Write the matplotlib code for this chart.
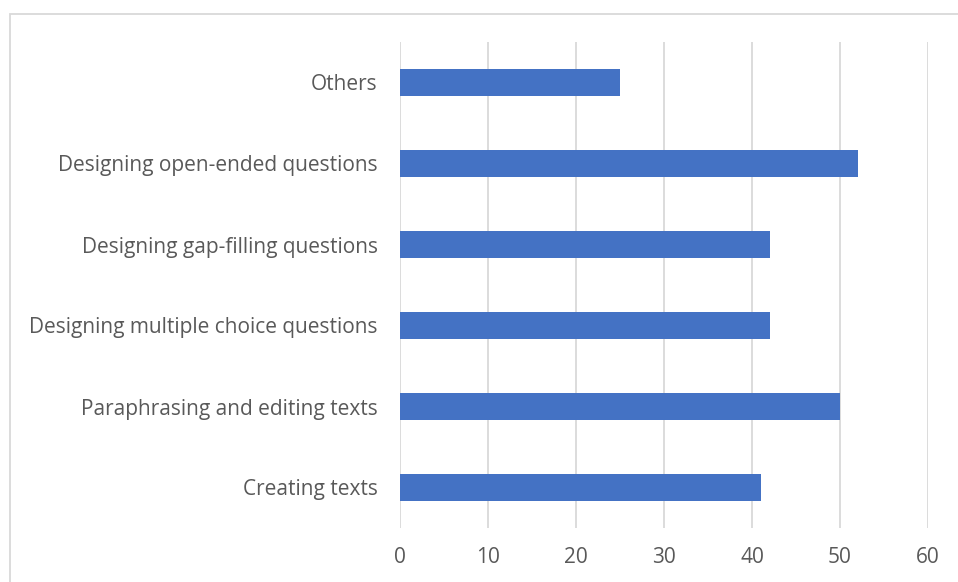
import matplotlib
matplotlib.use("Agg")
import matplotlib.pyplot as plt
from matplotlib.patches import Rectangle

categories = ["Creating texts", "Paraphrasing and editing texts",
              "Designing multiple choice questions", "Designing gap-filling questions",
              "Designing open-ended questions", "Others"]
values = [41, 50, 42, 42, 52, 25]
xticks = [0, 10, 20, 30, 40, 50, 60]

plt.rcParams['font.family'] = ['Open Sans', 'DejaVu Sans']

fig = plt.figure(figsize=(9.58, 5.82), dpi=100)
ax = fig.add_axes([400/958, 1-528/582, 528/958, 486/582])

ax.barh(range(len(categories)), values, height=0.345, color="#4472C4", zorder=3)
ax.set_xlim(0, 60)
ax.set_ylim(-0.5, len(categories)-0.5)
ax.set_xticks(xticks)
ax.set_yticks(range(len(categories)))
ax.set_yticklabels(categories)
ax.grid(axis='x', color='#d9d9d9', linewidth=1.3, zorder=0)
for s in ax.spines.values():
    s.set_visible(False)
ax.tick_params(axis='both', length=0, labelsize=15, colors='#595959')
ax.tick_params(axis='y', pad=16)
ax.tick_params(axis='x', pad=14)

fig.patches.append(Rectangle((10/958, -0.1), 1.2, 1.1 - 14/582, transform=fig.transFigure,
                             fill=False, edgecolor='#d9d9d9', linewidth=1.3))
fig.savefig("out.png", dpi=100)
